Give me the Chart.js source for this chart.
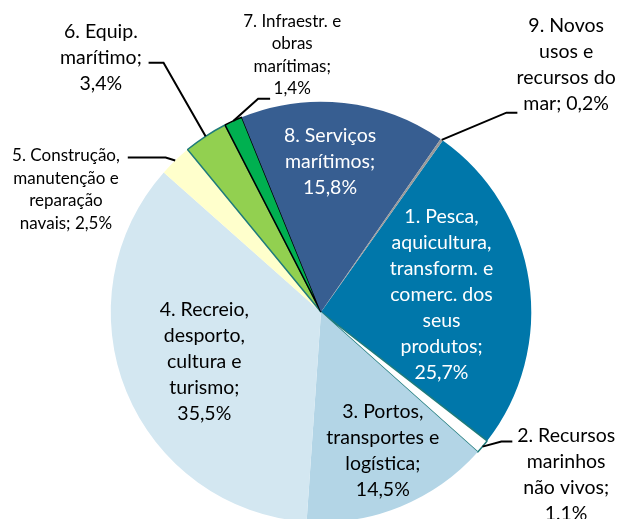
<!DOCTYPE html>
<html lang="pt">
<head>
  <meta charset="UTF-8" />
  <title>Economia do mar - VAB por agrupamento</title>
  <script src="https://cdn.jsdelivr.net/npm/chart.js"></script>
  <style>
    html, body { margin: 0; padding: 0; background: #fff; overflow: hidden; }
    #wrap { width: 618px; height: 519px; overflow: hidden; }
  </style>
</head>
<body>
  <div id="wrap">
    <canvas id="pie" width="618" height="530"></canvas>
  </div>

  <script>
    // Dados do gráfico
    const categories = [
      ['1. Pesca,', 'aquicultura,', 'transform. e', 'comerc. dos', 'seus', 'produtos;'],
      ['2. Recursos', 'marinhos', 'não vivos;'],
      ['3. Portos,', 'transportes e', 'logística;'],
      ['4. Recreio,', 'desporto,', 'cultura e', 'turismo;'],
      ['5. Construção,', 'manutenção e', 'reparação', 'navais;'],
      ['6. Equip.', 'marítimo;'],
      ['7. Infraestr. e', 'obras', 'marítimas;'],
      ['8. Serviços', 'marítimos;'],
      ['9. Novos', 'usos e', 'recursos do', 'mar;']
    ];
    const shares = [25.7, 1.1, 14.5, 35.5, 2.5, 3.4, 1.4, 15.8, 0.2];
    const pctLabels = ['25,7%', '1,1%', '14,5%', '35,5%', '2,5%', '3,4%', '1,4%', '15,8%', '0,2%'];

    const fills = ['#0077AA', '#FFFFFF', '#B3D5E6', '#D3E7F1', '#FFFFCC', '#92D050', '#00B050', '#375E91', '#9A9A9A'];
    const borders = ['#0077AA', '#1F7B7B', '#B3D5E6', '#D3E7F1', '#FFFFCC', '#1F7B7B', '#000000', '#375E91', '#9A9A9A'];
    const borderWidths = [0, 1.5, 0, 0, 0, 1.5, 1.5, 0, 0];

    // Posição dos rótulos (em frações do raio, a partir do centro)
    // pos = centro do bloco de texto; elbow/end = linha de chamada
    const labelLayout = [
      { pos: [0.573, -0.081], color: '#fff', size: 19.5, lh: 26 },
      { pos: [1.166, 0.773], color: '#000', size: 19.5, lh: 26, elbow: [0.858, 0.616], end: [0.910, 0.616] },
      { pos: [0.294, 0.659], color: '#000', size: 19.5, lh: 26 },
      { pos: [-0.555, 0.237], color: '#000', size: 19.5, lh: 26 },
      { pos: [-1.213, -0.583], color: '#000', size: 17, lh: 22.5, join: true, elbow: [-0.739, -0.735], end: [-0.919, -0.735] },
      { pos: [-1.047, -1.209], color: '#000', size: 19.5, lh: 26, elbow: [-0.749, -1.185], end: [-0.820, -1.185] },
      { pos: [-0.137, -1.223], color: '#000', size: 17, lh: 22.5, elbow: [-0.299, -1.014], end: [-0.242, -1.014] },
      { pos: [0.043, -0.716], color: '#fff', size: 19.5, lh: 26 },
      { pos: [1.166, -1.175], color: '#000', size: 19.5, lh: 26, join: true, elbow: [0.882, -0.948], end: [0.934, -0.948] }
    ];

    const pieLabels = {
      id: 'pieLabels',
      afterDatasetsDraw(chart) {
        const ctx = chart.ctx;
        const arcs = chart.getDatasetMeta(0).data;
        arcs.forEach((arc, i) => {
          const L = labelLayout[i];
          const { x, y, outerRadius: R, startAngle, endAngle } = arc.getProps(['x', 'y', 'outerRadius', 'startAngle', 'endAngle'], true);
          ctx.save();
          if (L.elbow) {
            const mid = (startAngle + endAngle) / 2;
            ctx.beginPath();
            ctx.moveTo(x + Math.cos(mid) * R, y + Math.sin(mid) * R);
            ctx.lineTo(x + L.elbow[0] * R, y + L.elbow[1] * R);
            ctx.lineTo(x + L.end[0] * R, y + L.end[1] * R);
            ctx.strokeStyle = '#000';
            ctx.lineWidth = 2;
            ctx.stroke();
          }
          const lines = categories[i].slice();
          if (L.join) {
            lines[lines.length - 1] += ' ' + pctLabels[i];
          } else {
            lines.push(pctLabels[i]);
          }
          ctx.font = L.size + 'px Lato';
          ctx.fillStyle = L.color;
          ctx.textAlign = 'center';
          ctx.textBaseline = 'middle';
          const cx = x + L.pos[0] * R;
          const cy = y + L.pos[1] * R;
          const top = cy - (lines.length - 1) * L.lh / 2;
          lines.forEach((t, k) => ctx.fillText(t, cx, top + k * L.lh));
          ctx.restore();
        });
      }
    };

    new Chart(document.getElementById('pie'), {
      type: 'pie',
      data: {
        labels: categories.map(c => c.join(' ')),
        datasets: [{
          data: shares,
          backgroundColor: fills,
          borderColor: borders,
          borderWidth: borderWidths
        }]
      },
      options: {
        responsive: false,
        animation: false,
        devicePixelRatio: 1,
        rotation: 35.4,
        layout: { padding: { left: 110, right: 86, top: 101, bottom: 7 } },
        plugins: { legend: { display: false }, tooltip: { enabled: false } }
      },
      plugins: [pieLabels]
    });
  </script>
</body>
</html>
